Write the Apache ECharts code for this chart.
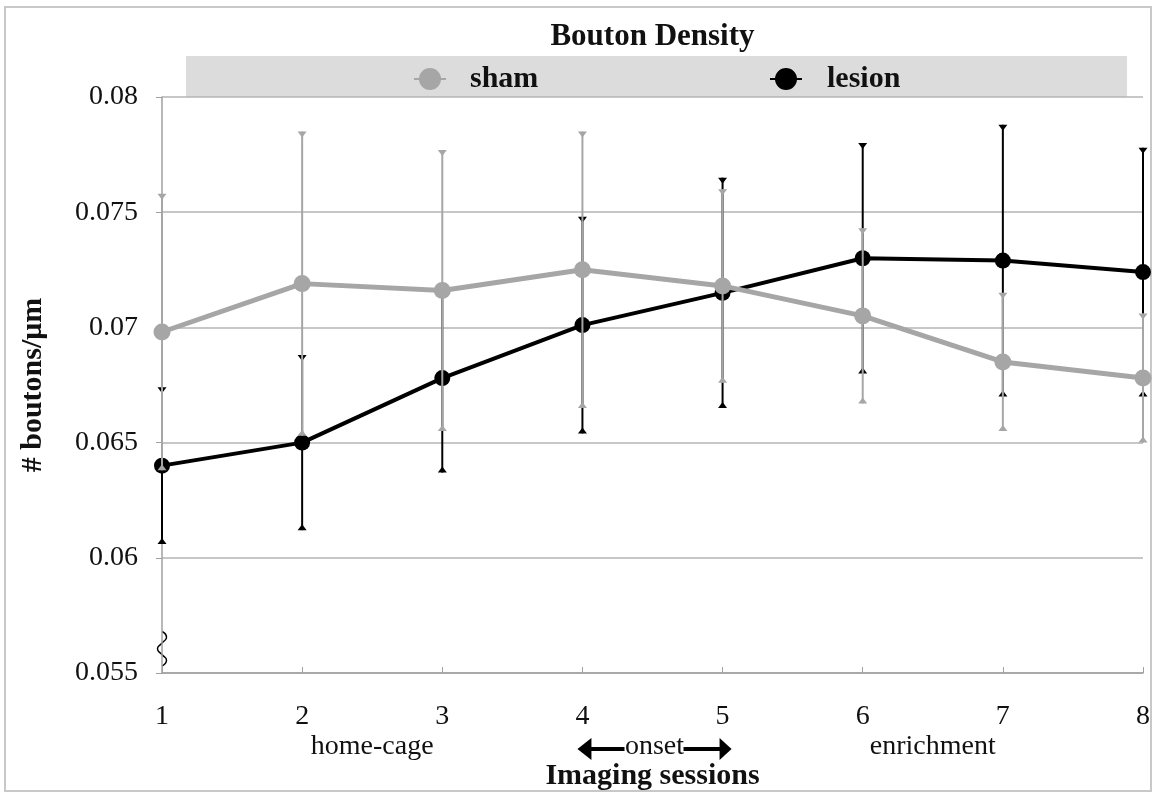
<!DOCTYPE html>
<html>
<head>
<meta charset="utf-8">
<script src="https://cdn.jsdelivr.net/npm/echarts@6/dist/echarts.min.js"></script>
<style>html,body{margin:0;padding:0;background:#fff;}#main{width:1153px;height:793px;}</style>
</head>
<body>
<div id="main"></div>
<script>
// ---- data ----
const sessions = ['1', '2', '3', '4', '5', '6', '7', '8'];
const shamMean = [0.0698, 0.0719, 0.0716, 0.0725, 0.0718, 0.0705, 0.0685, 0.0678];
const shamErr = [0.0060, 0.0066, 0.0061, 0.0060, 0.0042, 0.0038, 0.0030, 0.0028];
const lesionMean = [0.0640, 0.0650, 0.0678, 0.0701, 0.0715, 0.0730, 0.0729, 0.0724];
const lesionErr = [0.0034, 0.0038, 0.0041, 0.0047, 0.0050, 0.0050, 0.0059, 0.0054];
const phaseLabels = ['home-cage', 'onset', 'enrichment'];

const FONT = '"Liberation Serif", "DejaVu Serif", serif';
const SHAM = '#a6a6a6';
const LESION = '#000000';
const LEGEND_ICON = 'path://M5,11 A11,11 0 1,1 27,11 A11,11 0 1,1 5,11 Z M0,10 H5.2 V12 H0 Z M26.8,10 H32 V12 H26.8 Z';

function errData(mean, err) {
  return mean.map((m, i) => [i, m - err[i], m + err[i]]);
}
function errRender(color) {
  return function (params, api) {
    const x = api.value(0), lo = api.value(1), hi = api.value(2);
    const pLo = api.coord([x, lo]), pHi = api.coord([x, hi]);
    const w = 4.5, h = 6;
    return {
      type: 'group',
      children: [
        { type: 'line', shape: { x1: pHi[0], y1: pHi[1], x2: pLo[0], y2: pLo[1] }, style: { stroke: color, lineWidth: 2 } },
        { type: 'polygon', shape: { points: [[pHi[0] - w, pHi[1]], [pHi[0] + w, pHi[1]], [pHi[0], pHi[1] + h]] }, style: { fill: color } },
        { type: 'polygon', shape: { points: [[pLo[0] - w, pLo[1]], [pLo[0] + w, pLo[1]], [pLo[0], pLo[1] - h]] }, style: { fill: color } }
      ]
    };
  };
}

const legendText = { fontFamily: FONT, fontSize: 30, fontWeight: 'bold', color: '#111', lineHeight: 22 };

const chart = echarts.init(document.getElementById('main'));
const option = {
  animation: false,
  backgroundColor: '#fff',
  textStyle: { fontFamily: FONT },
  grid: { left: 162, right: 10, top: 97, bottom: 120 },
  legend: [
    {
      data: [{ name: 'sham', icon: LEGEND_ICON }], left: 409, top: 59, itemWidth: 32, itemHeight: 22, itemGap: 0,
      textStyle: Object.assign({}, legendText, { padding: [0, 0, 0, 19] })
    },
    {
      data: [{ name: 'lesion', icon: LEGEND_ICON }], left: 765, top: 59, itemWidth: 32, itemHeight: 22, itemGap: 0,
      textStyle: Object.assign({}, legendText, { padding: [0, 0, 0, 20] })
    }
  ],
  xAxis: {
    type: 'category',
    data: sessions,
    boundaryGap: false,
    axisLine: { lineStyle: { color: '#a0a0a0', width: 1.5 } },
    axisTick: { inside: true, length: 6, lineStyle: { color: '#a0a0a0' } },
    axisLabel: { fontFamily: FONT, fontSize: 28, color: '#111', margin: 30 },
    splitLine: { show: false }
  },
  yAxis: {
    type: 'value',
    min: 0.055, max: 0.08, interval: 0.005,
    axisLine: { show: true, lineStyle: { color: '#a0a0a0', width: 1.5 } },
    axisTick: { show: true, length: 6, lineStyle: { color: '#a0a0a0' } },
    axisLabel: {
      fontFamily: FONT, fontSize: 28, color: '#111', margin: 24,
      formatter: v => String(parseFloat(v.toFixed(3)))
    },
    splitLine: { lineStyle: { color: '#b4b4b4', width: 1.5 } },
    name: '# boutons/μm',
    nameLocation: 'middle',
    nameGap: 114,
    nameTextStyle: { fontFamily: FONT, fontSize: 30, fontWeight: 'bold', color: '#111' }
  },
  series: [
    {
      type: 'custom', name: 'lesionErr', renderItem: errRender(LESION),
      data: errData(lesionMean, lesionErr), encode: { x: 0, y: [1, 2] }, z: 2, silent: true
    },
    {
      type: 'line', name: 'lesion', data: lesionMean, symbol: 'circle', symbolSize: 16,
      itemStyle: { color: LESION }, lineStyle: { color: LESION, width: 4 }, z: 3
    },
    {
      type: 'custom', name: 'shamErr', renderItem: errRender(SHAM),
      data: errData(shamMean, shamErr), encode: { x: 0, y: [1, 2] }, z: 4, silent: true
    },
    {
      type: 'line', name: 'sham', data: shamMean, symbol: 'circle', symbolSize: 17,
      itemStyle: { color: SHAM }, lineStyle: { color: SHAM, width: 5 }, z: 5
    }
  ]
};
chart.setOption(option);

// annotations positioned via the axes
const p = (i, v) => chart.convertToPixel({ gridIndex: 0 }, [i, v]);
const x4 = p(3, 0.055)[0], x5 = p(4, 0.055)[0];
const xHome = (p(1, 0.055)[0] + p(2, 0.055)[0]) / 2;
const xEnr = (p(5, 0.055)[0] + p(6, 0.055)[0]) / 2;
const xMid = (p(0, 0.055)[0] + p(7, 0.055)[0]) / 2;
const axX = p(0, 0.055)[0];
const breakTop = p(0, 0.0568)[1], breakBot = p(0, 0.0553)[1];
const annY = 747;
const arrowY = 749;
const onsetX = (x4 + x5) / 2 + 2;
const waveN = 6, wavePts = [];
for (let k = 0; k <= waveN; k++) {
  const yy = breakTop + (breakBot - breakTop) * k / waveN;
  const xx = axX + (k % 2 === 0 ? 0 : (k % 4 === 1 ? 4.5 : -4.5));
  wavePts.push([xx, yy]);
}

chart.setOption({
  graphic: [
    { type: 'rect', z: -10, shape: { x: 5, y: 7, width: 1146, height: 784 }, style: { fill: 'none', stroke: '#c8c8c8', lineWidth: 2 } },
    { type: 'rect', z: -5, shape: { x: 186, y: 56, width: 941, height: 41 }, style: { fill: '#dcdcdc' } },
    { type: 'text', x: xMid, y: 37, style: { text: 'Bouton Density', font: 'bold 31px ' + FONT, fill: '#111', align: 'center', verticalAlign: 'middle' } },
    { type: 'text', x: xHome, y: annY, style: { text: phaseLabels[0], font: '28px ' + FONT, fill: '#111', align: 'center', verticalAlign: 'middle' } },
    { type: 'text', x: onsetX, y: annY, style: { text: phaseLabels[1], font: '28px ' + FONT, fill: '#111', align: 'center', verticalAlign: 'middle' } },
    { type: 'text', x: xEnr, y: annY, style: { text: phaseLabels[2], font: '28px ' + FONT, fill: '#111', align: 'center', verticalAlign: 'middle' } },
    { type: 'text', x: xMid, y: 776, style: { text: 'Imaging sessions', font: 'bold 30px ' + FONT, fill: '#111', align: 'center', verticalAlign: 'middle' } },
    // onset arrows
    { type: 'line', shape: { x1: x4 + 8, y1: arrowY, x2: onsetX - 30, y2: arrowY }, style: { stroke: '#000', lineWidth: 4 } },
    { type: 'polygon', shape: { points: [[x4 - 5, arrowY], [x4 + 9, arrowY - 11], [x4 + 9, arrowY + 11]] }, style: { fill: '#000' } },
    { type: 'line', shape: { x1: onsetX + 29, y1: arrowY, x2: x5 - 2, y2: arrowY }, style: { stroke: '#000', lineWidth: 4 } },
    { type: 'polygon', shape: { points: [[x5 + 9, arrowY], [x5 - 3, arrowY - 11], [x5 - 3, arrowY + 11]] }, style: { fill: '#000' } },
    // axis break symbol
    { type: 'polyline', shape: { points: wavePts, smooth: 0.6 }, style: { stroke: '#000', lineWidth: 1.5, fill: 'none' } }
  ]
});
</script>
</body>
</html>
